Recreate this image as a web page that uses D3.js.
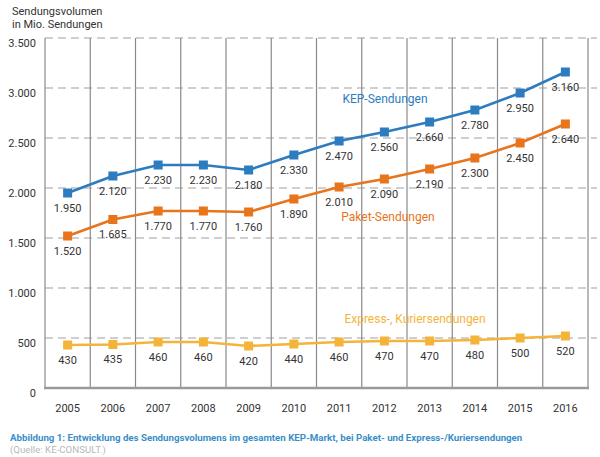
<!DOCTYPE html>
<html><head><meta charset="utf-8">
<script src="https://cdn.jsdelivr.net/npm/d3@7"></script>
<style>body{margin:0;background:#fff}svg{display:block}text{font-family:Roboto,"Noto Sans",sans-serif}</style>
</head><body><svg id="c" width="600" height="457"></svg>
<script>
const years = ["2005","2006","2007","2008","2009","2010","2011","2012","2013","2014","2015","2016"];
const kep = [1950,2120,2230,2230,2180,2330,2470,2560,2660,2780,2950,3160];
const paket = [1520,1685,1770,1770,1760,1890,2010,2090,2190,2300,2450,2640];
const express = [430,435,460,460,420,440,460,470,470,480,500,520];
const yTicks = [0,500,1000,1500,2000,2500,3000,3500];
const seriesNames = ["KEP-Sendungen","Paket-Sendungen","Express-, Kuriersendungen"];
const seriesColors = ["#2c7cbf","#e8741c","#f4b43a"];

const svg = d3.select("#c");
const x = d3.scaleBand().domain(years).range([45,588]).padding(0);
const y = d3.scaleLinear().domain([0,3500]).range([388,38]);
const fmt = v => d3.format(",")(v).replace(/,/g,".");

// horizontal dashed gridlines
svg.append("g").selectAll("line").data(yTicks.filter(d=>d>0)).join("line")
  .attr("x1",45).attr("x2",597).attr("y1",d=>y(d)).attr("y2",d=>y(d))
  .attr("stroke","#a0a0a0").attr("stroke-width",1.2).attr("stroke-dasharray","8,5");
// vertical column lines
const bounds = years.map(d=>x(d)).concat([x(years[years.length-1])+x.bandwidth()]);
svg.append("g").selectAll("line").data(bounds).join("line")
  .attr("x1",d=>d).attr("x2",d=>d).attr("y1",y(3500)).attr("y2",y(0))
  .attr("stroke","#8a8a8a").attr("stroke-width",1.2);
// bottom axis line
svg.append("line").attr("x1",44).attr("x2",589).attr("y1",y(0)).attr("y2",y(0))
  .attr("stroke","#9a9a9a").attr("stroke-width",2.5);

// y tick labels
svg.append("g").selectAll("text").data(yTicks).join("text")
  .attr("x",36).attr("y",d=>y(d)+5.5).attr("dy","0.35em").attr("text-anchor","end")
  .attr("font-size",11).attr("fill","#333").text(d=>fmt(d));
// x tick labels
svg.append("g").selectAll("text").data(years).join("text")
  .attr("x",d=>x(d)+x.bandwidth()/2).attr("y",408).attr("dy","0.35em").attr("text-anchor","middle")
  .attr("font-size",11).attr("fill","#333").text(d=>d);

// y axis title
svg.append("text").attr("x",12).attr("y",15).attr("font-size",11).attr("fill","#333").text("Sendungsvolumen");
svg.append("text").attr("x",12).attr("y",28).attr("font-size",11).attr("fill","#333").text("in Mio. Sendungen");

const series = [kep,paket,express];
const line = d3.line().x((d,i)=>x(years[i])+x.bandwidth()/2).y(d=>y(d));
series.forEach((vals,si)=>{
  const g = svg.append("g");
  g.append("path").attr("d",line(vals)).attr("fill","none")
    .attr("stroke",seriesColors[si]).attr("stroke-width",2.6);
  g.selectAll("rect").data(vals).join("rect")
    .attr("x",(d,i)=>x(years[i])+x.bandwidth()/2-4.5).attr("y",d=>y(d)-4.5)
    .attr("width",9).attr("height",9).attr("fill",seriesColors[si]);
  g.selectAll("text").data(vals).join("text")
    .attr("x",(d,i)=>x(years[i])+x.bandwidth()/2).attr("y",d=>y(d)+15).attr("dy","0.35em")
    .attr("text-anchor","middle").attr("font-size",11).attr("fill","#333").text(d=>fmt(d));
});

// series name labels
const namePos = [[385,99],[388,217],[415,319]];
seriesNames.forEach((n,i)=>{
  svg.append("text").attr("x",namePos[i][0]).attr("y",namePos[i][1]).attr("dy","0.35em")
    .attr("text-anchor","middle").attr("font-size",12).attr("fill",seriesColors[i]).text(n);
});

// caption
svg.append("text").attr("x",10).attr("y",441).attr("font-size",9.7).attr("font-weight","bold")
  .attr("fill","#3a8fc8").text("Abbildung 1: Entwicklung des Sendungsvolumens im gesamten KEP-Markt, bei Paket- und Express-/Kuriersendungen");
svg.append("text").attr("x",10).attr("y",453).attr("font-size",9.7)
  .attr("fill","#b8b8b8").text("(Quelle: KE-CONSULT.)");
</script></body></html>
